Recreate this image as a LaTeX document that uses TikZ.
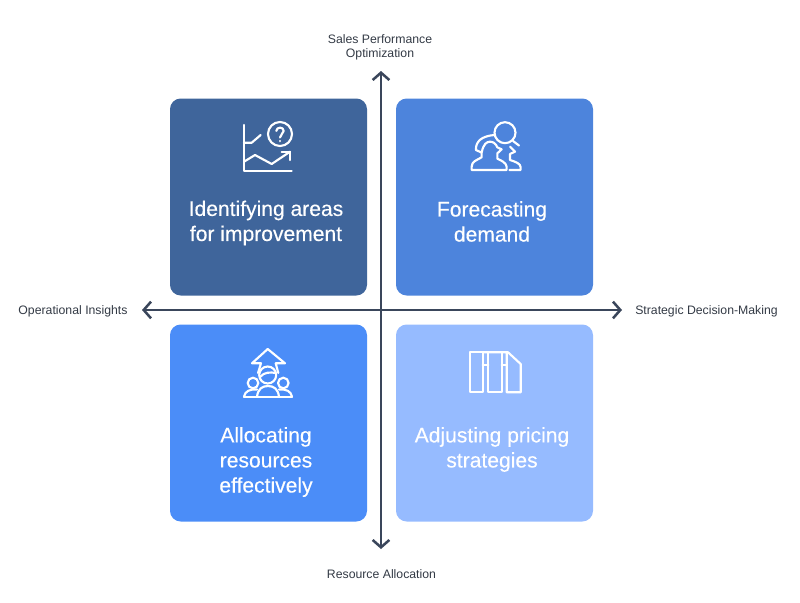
\documentclass[tikz,border=0pt]{standalone}
\usepackage{fontspec}
\setmainfont{Liberation Sans}
\newfontfamily\titlefont[FakeBold=0.25]{Liberation Sans}
\usepackage{tikz}
\usetikzlibrary{arrows.meta}
\definecolor{axisink}{HTML}{3A465B}
\definecolor{labelink}{HTML}{333A45}
\definecolor{cardA}{HTML}{3F659B}
\definecolor{cardB}{HTML}{4D84DC}
\definecolor{cardC}{HTML}{4B8DF8}
\definecolor{cardD}{HTML}{96BBFF}
\tikzstyle{card}      = [minimum width=147.75pt, minimum height=147.75pt, rounded corners=8pt, inner sep=0pt]
\tikzstyle{title}     = [text=white, font=\titlefont\fontsize{15.8pt}{18.8pt}\selectfont, align=center, inner sep=0pt]
\tikzstyle{axislabel} = [text=labelink, font=\fontsize{9.2pt}{10.6pt}\selectfont, align=center, inner sep=0pt]
\tikzstyle{axisline}  = [line width=1.9pt, draw=axisink, {Straight Barb[length=5.5pt,width=12.5pt,line width=1.9pt]}-{Straight Barb[length=5.5pt,width=12.5pt,line width=1.9pt]}]
\tikzstyle{icon}      = [draw=white, line width=1.6pt, line join=round, line cap=round]

\begin{document}
\begin{tikzpicture}[x=0.75pt,y=-0.75pt]
        \useasboundingbox (0,0) rectangle (800,603);

        \node[card, fill=cardA] (improve) at (268.5,197) {};
        \node[card, fill=cardB] (forecast) at (494.5,197) {};
        \node[card, fill=cardC] (allocate) at (268.5,423) {};
        \node[card, fill=cardD] (pricing) at (494.5,423) {};

        \node[title] (improvetext) at (266,223) {Identifying areas\\for improvement};
        \node[title] (forecasttext) at (492,221.5) {Forecasting\\demand};
        \node[title] (allocatetext) at (266,462) {Allocating\\resources\\effectively};
        \node[title] (pricingtext) at (492,449.5) {Adjusting pricing\\strategies};

        \coordinate (north) at (381,71);
        \coordinate (south) at (381,549);
        \coordinate (west) at (142,310);
        \coordinate (east) at (622,310);
        \draw[axisline] (south) -- (north);
        \draw[axisline] (west) -- (east);

        \node[axislabel] (salesperf) at (380,47) {Sales Performance\\Optimization};
        \node[axislabel] (resource) at (381.5,574.5) {Resource Allocation};
        \node[axislabel] (operational) at (73,311) {Operational Insights};
        \node[axislabel] (strategic) at (706.5,311) {Strategic Decision-Making};

        % chart with question mark
        \draw[icon] (244,125) -- (244,170.7) -- (291.7,170.7);
        \draw[icon] (244,142.7) -- (251.7,142.7) -- (260.7,135);
        \draw[icon] (280,134) circle (12);
        \draw[icon] (244,161.7) -- (255,155) -- (271.7,164) -- (290,151.7);
        \draw[icon] (281.7,151.7) -- (290,151.7) -- (290,160);
        \draw[icon] (276.3,131) .. controls (276.5,126.5) and (283.7,126.5) .. (283.7,131) .. controls (283.7,134) and (280,134) .. (280,137.5);
        \draw[icon] (280,141) -- (280,141.2);

        % people with magnifier
        \draw[icon] (505,132.7) circle (10.5);
        \draw[icon] (513,141) -- (519,145.5);
        \begin{scope}[shift={(460,110)},x=0.25pt,y=-0.25pt]
        \draw[icon] (48,120) .. controls (46,95) and (65,78) .. (103,75);
        \draw[icon] (48,120) -- (65,128) -- (65,142) .. controls (50,150) and (35,155) .. (35,170) -- (35,180) -- (140,180) -- (140,170) .. controls (138,158) and (125,152) .. (112,146) -- (112,130) -- (125,118) -- (112,112) .. controls (108,100) and (98,95) .. (90,95) .. controls (80,95) and (70,102) .. (65,128);
        \draw[icon] (150,110) -- (165,125) -- (150,132) -- (150,150) .. controls (165,155) and (182,160) .. (182,172) -- (182,180) -- (148,180);
        \end{scope}

        % arrow over three people
        \draw[icon] (258,373) -- (261,363.3) -- (252,363.3) -- (267.7,349) -- (285,363.3) -- (275.7,363.3) -- (278.3,373);
        \draw[icon] (267.7,375) circle (8.5);
        \draw[icon] (260,377) .. controls (264,372) and (271,372) .. (275.5,373);
        \draw[icon] (253,383) circle (5.3);
        \draw[icon] (283.3,383) circle (5.3);
        \draw[icon] (244,396.7) -- (292,396.7);
        \draw[icon] (244,396.7) .. controls (245,391) and (250,389) .. (257,389.5);
        \draw[icon] (292,396.7) .. controls (291,391) and (286,389) .. (279,389.5);
        \draw[icon] (257,396.7) .. controls (258,389) and (262,386) .. (268,386) .. controls (274,386) and (278,389) .. (279,396.7);

        % book columns
        \draw[icon] (470,352.3) rectangle (482.7,392.3);
        \draw[icon] (488.3,352.3) rectangle (501.7,392.3);
        \draw[icon] (482.7,352.3) -- (508,352.3) -- (520.7,364) -- (520.7,392.3) -- (506.7,392.3) -- (506.7,352.3);
        \draw[icon] (482.7,365) -- (488.3,365);
        \draw[icon] (501.7,365) -- (506.7,365);
\end{tikzpicture}
\end{document}
